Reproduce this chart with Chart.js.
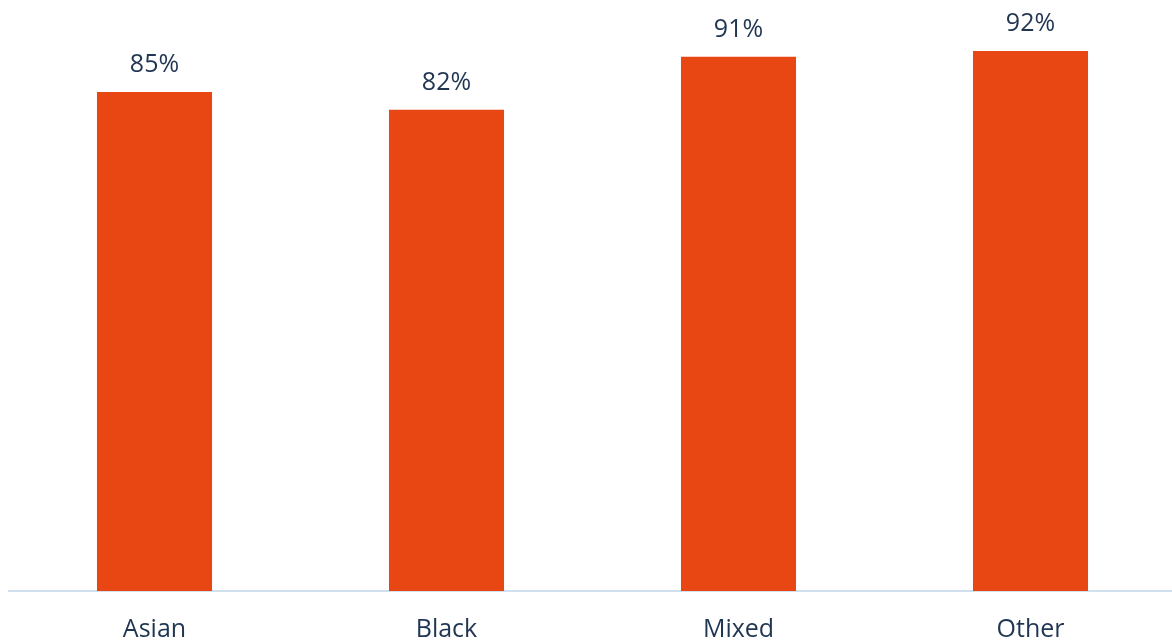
<!DOCTYPE html>
<html>
<head>
<meta charset="utf-8">
<script src="https://cdn.jsdelivr.net/npm/chart.js@4"></script>
<style>
  html, body { margin: 0; padding: 0; background: #fff; overflow: hidden; }
  #wrap { width: 1172px; height: 641px; overflow: hidden; position: relative; }
  #box { position: absolute; left: 0; top: 0; width: 1180px; height: 641px; }
</style>
</head>
<body>
<div id="wrap"><div id="box"><canvas id="barChart"></canvas></div></div>
<script>
var categories = ["Asian", "Black", "Mixed", "Other"];
var values = [85, 82, 91, 92];

var textColor = "#1f3552";
var barColor = "#e84613";

/* value labels above each bar */
var valueLabels = {
    id: "valueLabels",
    afterDatasetsDraw: function (chart) {
        var ctx = chart.ctx;
        var meta = chart.getDatasetMeta(0);
        ctx.save();
        ctx.font = "25px 'Open Sans', sans-serif";
        ctx.fillStyle = textColor;
        ctx.textAlign = "center";
        ctx.textBaseline = "alphabetic";
        meta.data.forEach(function (bar, i) {
            ctx.fillText(values[i] + "%", bar.x, bar.y - 20);
        });
        ctx.restore();
    }
};

new Chart(document.getElementById("barChart"), {
    type: "bar",
    data: {
        labels: categories,
        datasets: [{
            data: values,
            backgroundColor: barColor,
            categoryPercentage: 1,
            barPercentage: 0.394
        }]
    },
    options: {
        responsive: true,
        maintainAspectRatio: false,
        animation: false,
        layout: { padding: { left: 8.5, right: 3.5, top: 4, bottom: 0 } },
        plugins: {
            legend: { display: false },
            tooltip: { enabled: false }
        },
        scales: {
            x: {
                grid: { display: false },
                border: { display: true, color: "#d0e0ef", width: 2 },
                ticks: {
                    color: textColor,
                    font: { family: "'Open Sans', sans-serif", size: 25 },
                    padding: 16
                },
                afterFit: function (scale) { scale.height = 50; }
            },
            y: {
                display: false,
                min: 0,
                max: 100
            }
        }
    },
    plugins: [valueLabels]
});
</script>
</body>
</html>
